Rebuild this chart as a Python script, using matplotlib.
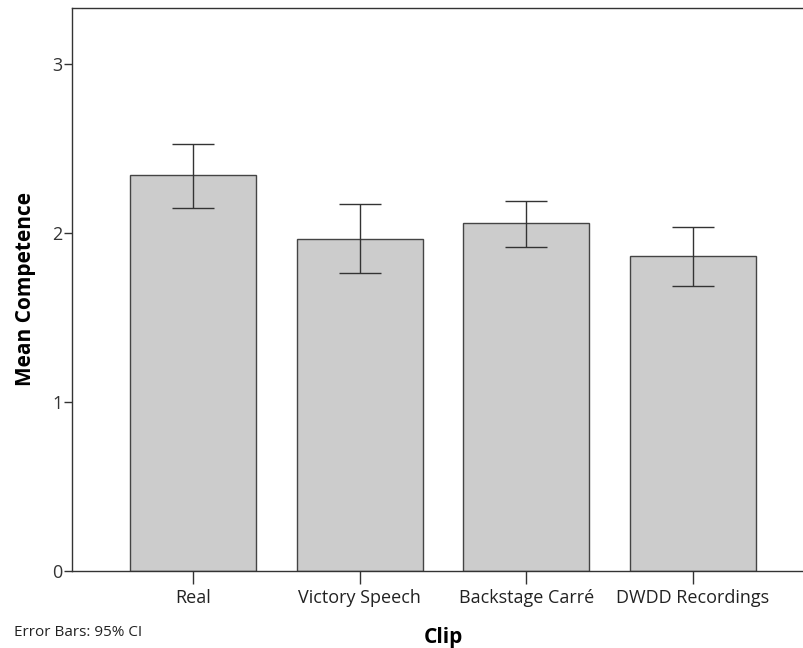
import numpy as np
import matplotlib
matplotlib.use('Agg')
import matplotlib.pyplot as plt

# Mean competence per clip with 95% CI (SPSS-style bar chart)
clips = ['Real', 'Victory Speech', 'Backstage Carré', 'DWDD Recordings']
means = [2.34, 1.966, 2.057, 1.862]
ci_low = [2.148, 1.761, 1.919, 1.686]
ci_high = [2.527, 2.172, 2.189, 2.037]

plt.rcParams['font.family'] = ['Open Sans', 'DejaVu Sans']

fig = plt.figure(figsize=(8.04, 6.48), dpi=100)
ax = fig.add_axes([0.09, 0.1188, 0.922, 0.8689])

x = np.arange(len(clips))
means = np.array(means)
err = np.array([means - np.array(ci_low), np.array(ci_high) - means])

ax.bar(x, means, width=0.754, color='#cccccc', edgecolor='#444444', linewidth=1.0)
ax.errorbar(x, means, yerr=err, fmt='none', ecolor='#333333', elinewidth=1.0,
            capsize=15, capthick=1.0)

ax.set_xlim(-0.725, 3.725)
ax.set_ylim(0, 3.331)
ax.set_yticks([0, 1, 2, 3])
ax.set_xticks(x)
ax.set_xticklabels(clips)

for side in ['left', 'top', 'bottom', 'right']:
    ax.spines[side].set_color('#333333')
    ax.spines[side].set_linewidth(1.0)

ax.tick_params(axis='x', length=9, width=1.0, color='#333333', labelsize=13, pad=4,
               labelcolor='#222222')
ax.tick_params(axis='y', length=6, width=1.0, color='#333333', labelsize=13, pad=1,
               labelcolor='#333333')

ax.set_ylabel('Mean Competence', fontsize=15, fontweight='bold', labelpad=12)
ax.set_xlabel('Clip', fontsize=15, fontweight='bold', labelpad=14)

fig.text(14 / 804, 1 - 633 / 648, 'Error Bars: 95% CI', fontsize=11, va='center',
         ha='left', color='#222222')

fig.savefig('out.png', dpi=100)
